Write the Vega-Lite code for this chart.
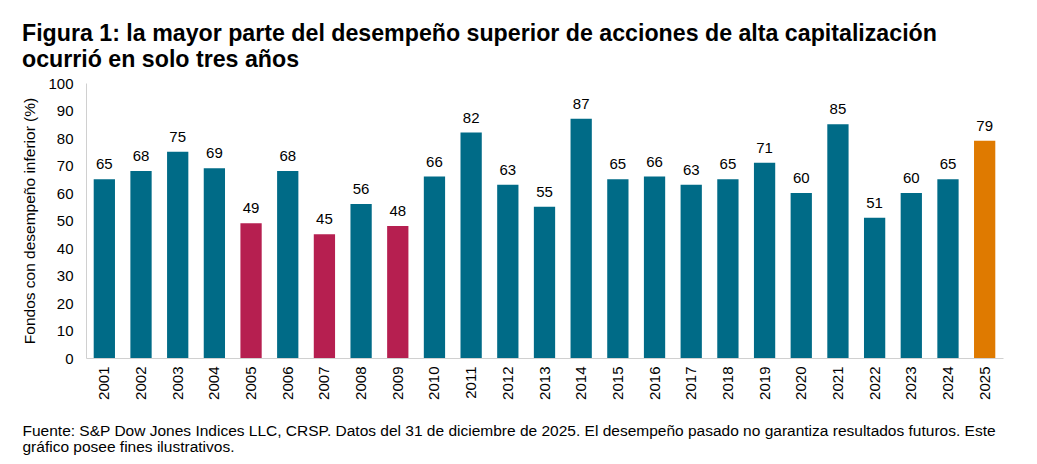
{
  "$schema": "https://vega.github.io/schema/vega-lite/v6.json",
  "autosize": {"type": "none"},
  "width": 917,
  "height": 275,
  "padding": {"left": 86, "top": 83, "right": 34, "bottom": 106},
  "background": "white",
  "config": {
    "font": "Liberation Sans",
    "view": {"stroke": null}
  },
  "title": {
    "text": ["Figura 1: la mayor parte del desempeño superior de acciones de alta capitalización", "ocurrió en solo tres años"],
    "anchor": "start",
    "frame": "group",
    "dx": -64,
    "offset": 4,
    "fontSize": 23.2,
    "lineHeight": 26,
    "fontWeight": "bold",
    "color": "#000000",
    "font": "Liberation Sans"
  },
  "data": {
    "values": [
      {"year": "2001", "value": 65, "group": "base"},
      {"year": "2002", "value": 68, "group": "base"},
      {"year": "2003", "value": 75, "group": "base"},
      {"year": "2004", "value": 69, "group": "base"},
      {"year": "2005", "value": 49, "group": "low"},
      {"year": "2006", "value": 68, "group": "base"},
      {"year": "2007", "value": 45, "group": "low"},
      {"year": "2008", "value": 56, "group": "base"},
      {"year": "2009", "value": 48, "group": "low"},
      {"year": "2010", "value": 66, "group": "base"},
      {"year": "2011", "value": 82, "group": "base"},
      {"year": "2012", "value": 63, "group": "base"},
      {"year": "2013", "value": 55, "group": "base"},
      {"year": "2014", "value": 87, "group": "base"},
      {"year": "2015", "value": 65, "group": "base"},
      {"year": "2016", "value": 66, "group": "base"},
      {"year": "2017", "value": 63, "group": "base"},
      {"year": "2018", "value": 65, "group": "base"},
      {"year": "2019", "value": 71, "group": "base"},
      {"year": "2020", "value": 60, "group": "base"},
      {"year": "2021", "value": 85, "group": "base"},
      {"year": "2022", "value": 51, "group": "base"},
      {"year": "2023", "value": 60, "group": "base"},
      {"year": "2024", "value": 65, "group": "base"},
      {"year": "2025", "value": 79, "group": "latest"}
    ]
  },
  "encoding": {
    "x": {
      "field": "year",
      "type": "ordinal",
      "scale": {"paddingInner": 0.42, "paddingOuter": 0.21},
      "axis": {
        "labelAngle": -90,
        "labelFontSize": 15,
        "labelColor": "#000000",
        "labelPadding": 8,
        "ticks": false,
        "domainColor": "#d0d0d0",
        "title": ["Fuente: S&P Dow Jones Indices LLC, CRSP. Datos del 31 de diciembre de 2025. El desempeño pasado no garantiza resultados futuros. Este", "gráfico posee fines ilustrativos."],
        "titleFontSize": 15.5,
        "titleFontWeight": "normal",
        "titleColor": "#000000",
        "titleAnchor": "start",
        "titleAlign": "left",
        "titleBaseline": "alphabetic",
        "titleLineHeight": 16,
        "titleX": -64,
        "titleY": 77
      }
    },
    "y": {
      "field": "value",
      "type": "quantitative",
      "scale": {"domain": [0, 100], "nice": false},
      "axis": {
        "values": [0, 10, 20, 30, 40, 50, 60, 70, 80, 90, 100],
        "grid": false,
        "ticks": false,
        "labelFontSize": 15,
        "labelColor": "#000000",
        "labelPadding": 13,
        "domainColor": "#d0d0d0",
        "title": "Fondos con desempeño inferior (%)",
        "titleFontSize": 15.5,
        "titleFontWeight": "normal",
        "titleColor": "#000000",
        "titlePadding": 10
      }
    }
  },
  "layer": [
    {
      "mark": {"type": "bar"},
      "encoding": {
        "color": {
          "field": "group",
          "type": "nominal",
          "scale": {"domain": ["base", "low", "latest"], "range": ["#006b87", "#b61f50", "#df7a00"]},
          "legend": null
        }
      }
    },
    {
      "mark": {"type": "text", "baseline": "bottom", "dy": -7, "fontSize": 15, "color": "#000000"},
      "encoding": {"text": {"field": "value", "type": "quantitative"}}
    }
  ]
}
